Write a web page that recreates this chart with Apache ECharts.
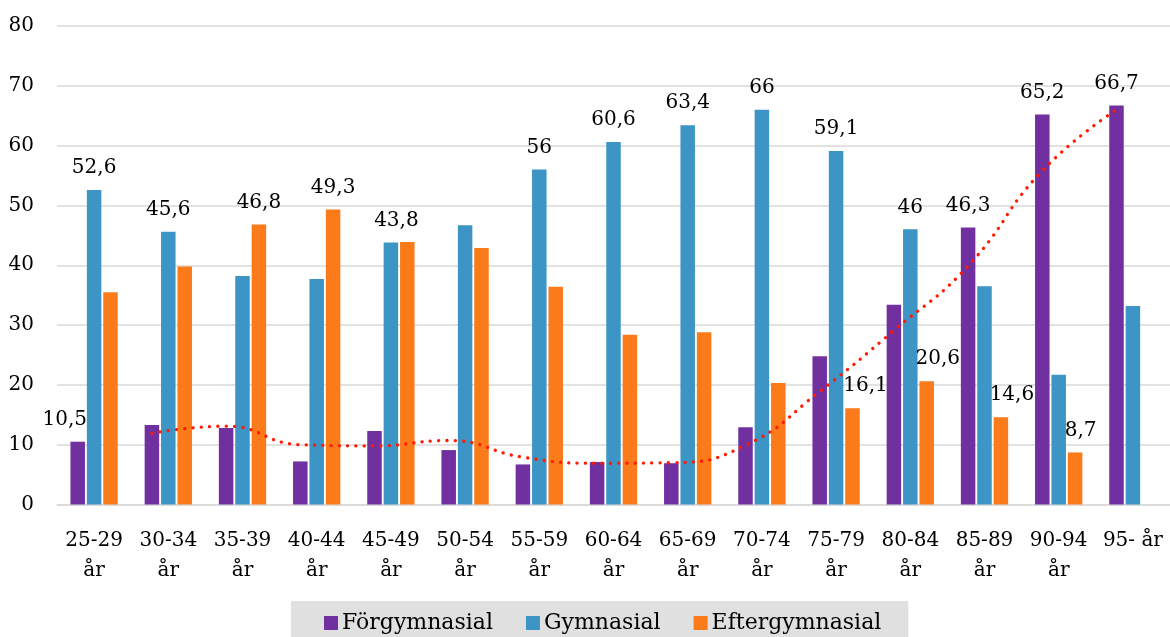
<!DOCTYPE html>
<html><head><meta charset="utf-8">
<script src="https://cdn.jsdelivr.net/npm/echarts@6/dist/echarts.min.js"></script>
<style>html,body{margin:0;padding:0;background:#fff}#c{width:1170px;height:637px}</style>
</head><body><div id="c"></div>
<script>
const categories = ['25-29\når','30-34\når','35-39\når','40-44\når','45-49\når','50-54\når','55-59\når','60-64\når','65-69\når','70-74\når','75-79\når','80-84\når','85-89\når','90-94\når','95- år'];
const seriesNames = ['Förgymnasial','Gymnasial','Eftergymnasial'];
const forgymnasial = [10.5,13.3,12.8,7.2,12.3,9.1,6.7,7.1,6.9,12.9,24.8,33.4,46.3,65.2,66.7];
const gymnasial = [52.6,45.6,38.2,37.7,43.8,46.7,56,60.6,63.4,66,59.1,46,36.5,21.7,33.2];
const eftergymnasial = [35.5,39.8,46.8,49.3,43.9,42.9,36.4,28.4,28.8,20.3,16.1,20.6,14.6,8.7,null];
const trendForgymnasial = [null,11.9,13.1,10.0,9.8,10.7,7.9,6.9,7.0,9.9,18.9,29.1,39.9,55.8,66.0];
const yTickValues = [0,10,20,30,40,50,60,70,80];

// which points carry a data label (index lists) and their horizontal nudges (styling)
const labeledF = [0,12,13,14];
const labeledG = [0,1,4,6,7,8,9,10,11];
const labeledE = [2,3,10,11,12,13];
const labelShift = {F:{0:-13}, G:{4:5.5}, E:{10:13,11:11,12:11,13:5.5}};

const FONT = 'DejaVu Serif';
const colors = ['#7030A0','#3C95C4','#FB7A1A'];
const fmt = v => String(v).replace('.', ',');

function build(values, labeled, shifts) {
  return values.map((v, i) => {
    if (v == null) return null;
    if (labeled.indexOf(i) >= 0) {
      return {value: v, label: {show: true, offset: [shifts[i] || 0, 0]}};
    }
    return v;
  });
}

const barWidth = 14.5, gapPx = 1.9;
const gridLeft = 57, gridWidth = 1116;
const catW = gridWidth / categories.length;
const purpleShift = -(barWidth + gapPx) / catW;

const labelStyle = {show: false, position: 'top', distance: 12, color: '#000', fontFamily: FONT, fontSize: 20, formatter: p => fmt(p.value)};

const chart = echarts.init(document.getElementById('c'));
chart.setOption({
  animation: false,
  backgroundColor: '#fff',
  grid: {left: gridLeft, top: 26, width: gridWidth, height: 478.5, containLabel: false},
  legend: {
    data: seriesNames,
    left: 291, top: 601,
    backgroundColor: '#e0e0e0',
    padding: [11, 27, 11, 33],
    itemGap: 33,
    itemWidth: 14, itemHeight: 14,
    icon: 'rect',
    textStyle: {fontFamily: FONT, fontSize: 22, color: '#000', padding: [0,0,0,-1]}
  },
  xAxis: [
    {type: 'category', data: categories,
     axisLine: {lineStyle: {color: '#d9d9d9', width: 1.5}},
     axisTick: {show: false},
     axisLabel: {interval: 0, fontFamily: FONT, fontSize: 20, color: '#000', margin: 22, lineHeight: 29.5}},
    {type: 'value', min: 0, max: categories.length, show: false}
  ],
  yAxis: {
    type: 'value', min: yTickValues[0], max: yTickValues[yTickValues.length-1], interval: 10,
    axisLine: {show: false}, axisTick: {show: false},
    splitLine: {lineStyle: {color: '#d9d9d9', width: 1.5}},
    axisLabel: {fontFamily: FONT, fontSize: 20, color: '#000', margin: 23}
  },
  series: [
    {name: seriesNames[0], type: 'bar', barWidth: barWidth, barGap: (gapPx / barWidth * 100) + '%',
     itemStyle: {color: colors[0]}, label: labelStyle,
     data: build(forgymnasial, labeledF, labelShift.F)},
    {name: seriesNames[1], type: 'bar', barWidth: barWidth,
     itemStyle: {color: colors[1]}, label: labelStyle,
     data: build(gymnasial, labeledG, labelShift.G)},
    {name: seriesNames[2], type: 'bar', barWidth: barWidth,
     itemStyle: {color: colors[2]}, label: labelStyle,
     data: build(eftergymnasial, labeledE, labelShift.E)},
    {name: 'trend', type: 'line', xAxisIndex: 1, smooth: true, symbol: 'none', z: 5,
     lineStyle: {color: '#ff1a00', width: 3.3, type: [0.1, 8.2], cap: 'round'},
     data: trendForgymnasial.map((v, i) => v == null ? null : [i + 0.5 + purpleShift, v]).filter(d => d)}
  ]
});
</script></body></html>
